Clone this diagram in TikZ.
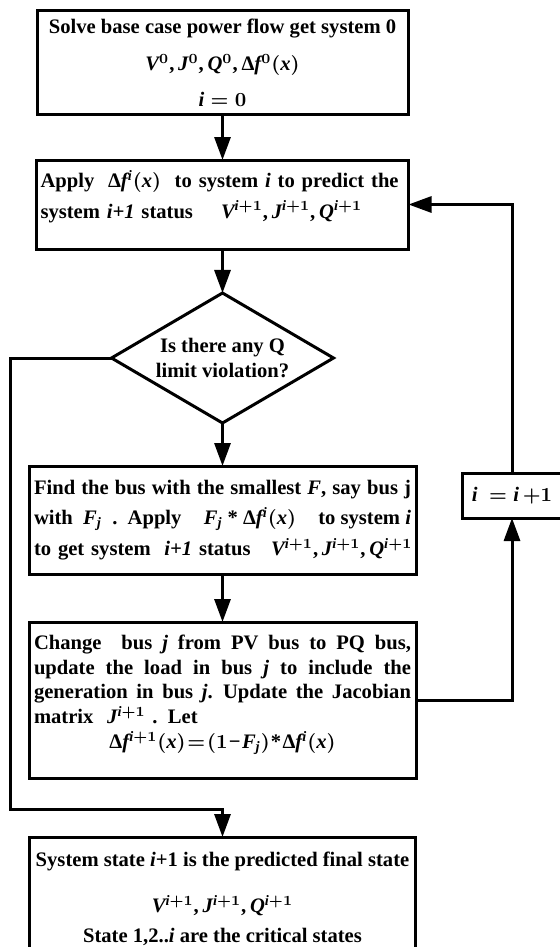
\documentclass[tikz,border=0pt]{standalone}
\usepackage{amsmath,amssymb}
\usepackage{fontspec}
\setmainfont{Liberation Serif}
\DeclareSymbolFont{txtit}{TU}{\rmdefault}{m}{it}
\SetSymbolFont{txtit}{bold}{TU}{\rmdefault}{\bfdefault}{it}
\DeclareSymbolFont{txtup}{TU}{\rmdefault}{m}{n}
\SetSymbolFont{txtup}{bold}{TU}{\rmdefault}{\bfdefault}{n}
\DeclareMathSymbol{V}{\mathalpha}{txtit}{`V}
\DeclareMathSymbol{J}{\mathalpha}{txtit}{`J}
\DeclareMathSymbol{Q}{\mathalpha}{txtit}{`Q}
\DeclareMathSymbol{F}{\mathalpha}{txtit}{`F}
\DeclareMathSymbol{f}{\mathalpha}{txtit}{`f}
\DeclareMathSymbol{x}{\mathalpha}{txtit}{`x}
\DeclareMathSymbol{i}{\mathalpha}{txtit}{`i}
\DeclareMathSymbol{j}{\mathalpha}{txtit}{`j}
\DeclareMathSymbol{0}{\mathalpha}{txtup}{`0}
\DeclareMathSymbol{1}{\mathalpha}{txtup}{`1}
\DeclareMathSymbol{(}{\mathopen}{txtup}{`(}
\DeclareMathSymbol{)}{\mathclose}{txtup}{`)}
\DeclareMathSymbol{+}{\mathbin}{txtup}{`+}
\DeclareMathSymbol{*}{\mathbin}{txtup}{`*}
\DeclareMathSymbol{=}{\mathrel}{txtup}{`=}
\DeclareMathSymbol{,}{\mathpunct}{txtup}{`,}
\Umathchardef\tDelta="0 \symtxtup "394
\Umathchardef\tminus="2 \symtxtup "2212
\usepackage{tikz}
\usetikzlibrary{arrows.meta,positioning,shapes.geometric}
\newcommand{\fillline}[1]{{\spaceskip=0.25em plus 2em minus 0.05em\makebox[188.5pt][s]{#1}}}
\newcommand{\midline}[1]{\makebox[188.5pt][c]{#1}}
\newcommand{\VJQ}{$V^{i+1}, J^{i+1}, Q^{i+1}$}

\begin{document}
\begin{tikzpicture}[
  font=\fontsize{10.3}{12.4}\selectfont\bfseries\boldmath,
  box/.style={draw,line width=1.5pt,outer sep=0pt,minimum width=193.5pt,inner sep=2.5pt},
  stepbox/.style={box,text width=188.5pt,align=left},
  decide/.style={draw,line width=1.5pt,outer sep=0pt,diamond,aspect=1.71,minimum width=111pt,minimum height=65pt,inner sep=0pt,align=center},
  arrow/.style={-{Triangle[length=11.5pt,width=8pt]},line width=1.5pt}
]
\useasboundingbox[fill=white] (0,0) rectangle (279.5pt,-473.5pt);
\node[box,minimum width=185.5pt,minimum height=52pt,inner ysep=0pt,align=center] (base) at (111.25pt,-31.5pt)
  {Solve base case power flow get system 0\\[6.3pt]
   $V^{0}, J^{0}, Q^{0}, \tDelta f^{0}(x)$\\[5.6pt]
   $i=0$};
\node[box,minimum width=186pt,minimum height=44.5pt,text width=182pt,inner sep=2pt,align=left,below=22.5pt of base] (apply)
  {\mbox{Apply \ $\tDelta f^{i}(x)$ \ to system \textit{i} to predict the}\\[3pt]
   \mbox{system \textit{i+1} status\hspace{14pt}\VJQ}\\[-2pt]
   \mbox{}};
\node[decide,below=22pt of apply] (query) {Is there any Q\\limit violation?};
\node[stepbox,minimum height=54pt,below=21.5pt of query] (find)
  {\fillline{Find the bus with the smallest \textit{F}, say bus j}\\[3pt]
   \fillline{with \ $F_j$ \ . Apply\hfill$F_j*\tDelta f^{i}(x)$\hfill to system \textit{i}}\\[3pt]
   \mbox{to get system \ \textit{i+1} status \ \ \VJQ}};
\node[stepbox,minimum height=78pt,below=24pt of find] (chg)
  {\fillline{Change \ bus \textit{j} from PV bus to PQ bus,}\\
   \fillline{update the load in bus \textit{j} to include the}\\
   \fillline{generation in bus \textit{j}. Update the Jacobian}\\
   \mbox{matrix \ $J^{i+1}$ . Let}\\
   \midline{\thickmuskip=1.5mu\medmuskip=1mu$\tDelta f^{i+1}(x)=(1\tminus F_j)*\tDelta f^{i}(x)$}\\[-4pt]
   \mbox{}};
\node[box,minimum width=193pt,inner ysep=7.5pt,align=center,anchor=north] (final) at ([yshift=-29.5pt]chg.south)
  {System state \textit{i}+1 is the predicted final state\\[10.5pt]
   \VJQ\\[2.5pt]
   State 1,2..\textit{i} are the critical states\\[4pt]
   \mbox{}};
\node[box,minimum width=50pt,minimum height=22.5pt] (inc) at (256pt,-247.75pt) {$i~=i\,{+}1$};
\draw[arrow] (base) -- (apply);
\draw[arrow] (apply) -- (query);
\draw[arrow] (query) -- (find);
\draw[arrow] (find) -- (chg);
\draw[arrow] (chg.east) -| (inc.south);
\draw[arrow] (inc.north) |- (apply.east);
\draw[arrow] (query.west) -- ++(-50.5pt,0) |- ([yshift=14pt]final.north) -- (final.north);
\end{tikzpicture}
\end{document}
